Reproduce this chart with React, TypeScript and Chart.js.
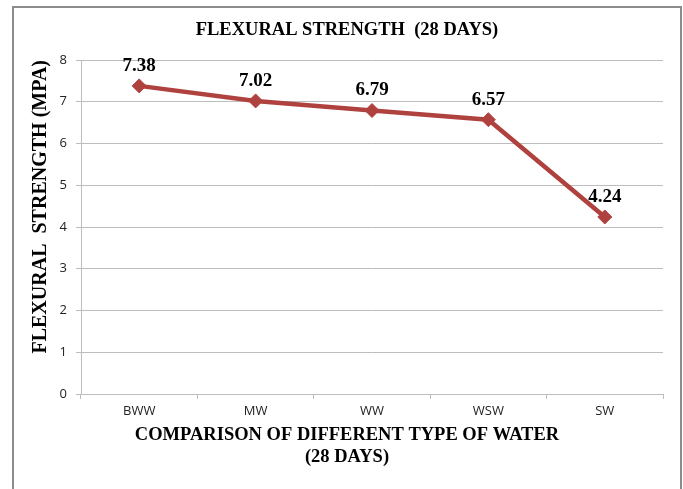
import React, { useEffect, useRef } from "react";
import { Chart, registerables } from "chart.js";

Chart.register(...registerables);

const categories = ["BWW", "MW", "WW", "WSW", "SW"];
const flexuralStrength = [7.38, 7.02, 6.79, 6.57, 4.24];
const chartTitle = "FLEXURAL STRENGTH  (28 DAYS)";
const xTitleLines = ["COMPARISON OF DIFFERENT TYPE OF WATER", "(28 DAYS)"];
const yTitle = "FLEXURAL  STRENGTH (MPA)";

const SERIF = '"Liberation Serif", "Times New Roman", serif';
const SANS = '"Open Sans", "Liberation Sans", sans-serif';
const LINE_COLOR = "#AF423F";
const GRID = "#BDBDBD";

const dataLabels = {
  id: "dataLabels",
  afterDatasetsDraw(chart: any) {
    const ctx = chart.ctx;
    const meta = chart.getDatasetMeta(0);
    const values = chart.data.datasets[0].data as number[];
    ctx.save();
    ctx.font = `bold 19px ${SERIF}`;
    ctx.fillStyle = "#000";
    ctx.textAlign = "center";
    ctx.textBaseline = "middle";
    meta.data.forEach((pt: any, i: number) => {
      ctx.fillText(values[i].toFixed(2), pt.x, pt.y - 20);
    });
    ctx.restore();
  },
};

export default function App() {
  const ref = useRef<HTMLCanvasElement>(null);
  useEffect(() => {
    if (!ref.current) return;
    const chart = new Chart(ref.current, {
      type: "line",
      data: {
        labels: categories,
        datasets: [
          {
            data: flexuralStrength,
            borderColor: LINE_COLOR,
            backgroundColor: LINE_COLOR,
            borderWidth: 4.5,
            pointStyle: "rectRot",
            pointRadius: 7,
            pointBorderWidth: 1,
            pointBackgroundColor: LINE_COLOR,
            pointBorderColor: LINE_COLOR,
            tension: 0,
            yAxisID: "y",
          },
        ],
      },
      options: {
        responsive: false,
        animation: false,
        layout: { padding: { left: 11, right: 0, top: 0, bottom: 0 } },
        plugins: {
          legend: { display: false },
          tooltip: { enabled: false },
          title: {
            display: true,
            text: chartTitle,
            color: "#000",
            font: { family: SERIF, size: 18.5, weight: "bold" },
            padding: { top: 18.9, bottom: 18.9 },
          },
          subtitle: {
            display: true,
            position: "bottom",
            text: xTitleLines,
            color: "#000",
            font: { family: SERIF, size: 18.5, weight: "bold" },
            padding: { top: 1.9, bottom: 20.7 },
          },
        },
        scales: {
          x: {
            type: "category",
            offset: true,
            grid: {
              offset: true,
              drawOnChartArea: false,
              drawTicks: true,
              tickLength: 5,
              color: GRID,
            },
            border: { display: true, color: GRID },
            ticks: {
              color: "#222",
              font: { family: SANS, size: 13 },
              padding: 4,
              maxRotation: 0,
            },
            afterFit(scale: any) {
              scale.height = 28;
            },
          },
          y: {
            min: 0,
            max: 8,
            grid: { color: GRID, tickLength: 5, drawTicks: true },
            border: { display: true, color: GRID },
            ticks: {
              stepSize: 1,
              color: "#222",
              font: { family: SANS, size: 13 },
              padding: 9,
            },
            title: {
              display: true,
              text: yTitle,
              align: "end",
              color: "#000",
              font: { family: SERIF, size: 20, weight: "bold" },
              padding: { top: 17.5, bottom: 0 },
            },
            afterFit(scale: any) {
              scale.width = 70;
            },
          },
          spacer: {
            type: "linear",
            position: "right",
            display: true,
            grid: { display: false, drawTicks: false },
            border: { display: false },
            ticks: { display: false },
            afterFit(scale: any) {
              scale.width = 20;
            },
          },
        },
      },
      plugins: [dataLabels],
    });
    return () => chart.destroy();
  }, []);

  return (
    <div style={{ position: "fixed", left: 0, top: 0, width: 683, height: 489, background: "#fff", overflow: "hidden" }}>
      <div
        style={{
          position: "absolute",
          left: 12,
          top: 6,
          width: 670,
          height: 600,
          boxSizing: "border-box",
          border: "2px solid #8C8C8C",
        }}
      />
      <canvas ref={ref} width={683} height={489} style={{ position: "absolute", left: 0, top: 0 }} />
    </div>
  );
}
